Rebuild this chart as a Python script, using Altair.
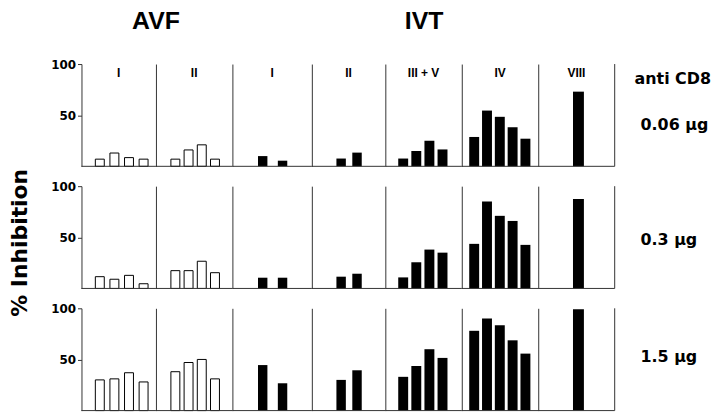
import altair as alt
import pandas as pd

# ---------------- data ----------------
doses = ["0.06 µg", "0.3 µg", "1.5 µg"]
group_names = ["I", "II", "I", "II", "III + V", "IV", "VIII"]
cohorts = ["AVF", "AVF", "IVT", "IVT", "IVT", "IVT", "IVT"]

# % inhibition, one list per dose row (0.06, 0.3, 1.5 µg)
avf_i = [[7, 13, 8.5, 7], [11.5, 9, 12.8, 4.6], [30, 31, 37, 28]]
avf_ii = [[7, 16, 21, 7], [17.4, 17.4, 26.6, 15.4], [38, 47, 50, 31]]
ivt_i = [[10, 5.5], [10.5, 10.5], [44.5, 26.7]]
ivt_ii = [[7.6, 13.4], [11.5, 14.4], [30, 39.4]]
ivt_iii_v = [[7.6, 15, 25, 16.5], [10.8, 25.6, 38, 35], [33, 43.6, 60, 51.5]]
ivt_iv = [[28.7, 54.5, 48.4, 38.2, 27], [43.6, 85, 71, 66, 42.6], [78, 90, 83.4, 68.7, 55.7]]
ivt_viii = [[73], [87.5], [99]]
series = [avf_i, avf_ii, ivt_i, ivt_ii, ivt_iii_v, ivt_iv, ivt_viii]

y_ticks = [50, 100]
side_note = "anti CD8"
y_title = "% Inhibition"

# ---------------- layout / style ----------------
FONT = "DejaVu Sans"
HEAD_FONT = "Liberation Sans, Arial, DejaVu Sans"
LINE = "#333333"
widths = [75, 77, 80, 74, 77, 77, 77]
# (bar step, bar width, centre of the bar group inside the panel)
bar_geom = [(14.7, 9, 40.5), (13.3, 9, 39.5), (20, 9.5, 40.5), (16, 9.5, 37.5),
            (13.2, 10, 37.8), (12.9, 10, 38.3), (16, 11, 40.5)]
H = 103
ROW_GAP = 13
dose_label_y = [61, 54, 49]


def text_layer(label, x, y, size, angle=0, align="center", font=FONT, baseline="middle"):
    return alt.Chart(pd.DataFrame({"t": [label]})).mark_text(
        font=font, fontSize=size, fontWeight="bold", color="black",
        align=align, baseline=baseline, angle=angle
    ).encode(text="t:N", x=alt.value(x), y=alt.value(y))


def panel(r, g):
    vals = series[g][r]
    n = len(vals)
    df = pd.DataFrame({"sample": [str(i + 1) for i in range(n)], "value": vals})
    W = widths[g]
    step, bw, centre = bar_geom[g]
    p_in = 1 - bw / step
    span = (n - 1) * step + bw
    rng = [centre - span / 2, centre + span / 2]
    first = g == 0
    filled = cohorts[g] == "IVT"

    yaxis = alt.Axis(values=y_ticks, title=None, grid=False, domain=True,
                     domainColor=LINE, domainWidth=1,
                     ticks=first, tickSize=4, tickColor=LINE,
                     labels=first, labelFont=FONT, labelFontSize=12,
                     labelFontWeight="bold", labelColor="black", labelPadding=2)
    xaxis = alt.Axis(title=None, grid=False, labels=False, ticks=False,
                     domain=False)
    mark_kw = dict(fill="black") if filled else dict(fill="white", stroke="black", strokeWidth=1)
    bars = alt.Chart(df).mark_bar(**mark_kw).encode(
        x=alt.X("sample:N", sort=None, axis=xaxis,
                scale=alt.Scale(paddingInner=p_in, paddingOuter=0, range=rng)),
        y=alt.Y("value:Q", axis=yaxis, scale=alt.Scale(domain=[0, 100], nice=False)),
    )
    base_line = alt.Chart(pd.DataFrame({"v": [0]})).mark_rule(
        color=LINE, strokeWidth=1).encode(x=alt.value(0), x2=alt.value(W), y=alt.value(H))
    layers = [bars, base_line]
    if r == 0:
        layers.append(text_layer(group_names[g], W / 2, 9, 12, font=HEAD_FONT))
        if g == 0:
            layers.append(text_layer("AVF", W, -35, 25, font=HEAD_FONT, baseline="alphabetic"))
        if g == 4:
            layers.append(text_layer("IVT", 39, -35, 25, font=HEAD_FONT, baseline="alphabetic"))
    if g == 6:
        layers.append(alt.Chart(pd.DataFrame({"v": [0]})).mark_rule(
            color=LINE, strokeWidth=1).encode(x=alt.value(W), y=alt.value(0), y2=alt.value(H)))
        if r == 0:
            layers.append(text_layer(side_note, W + 20, 15, 16, align="left"))
        layers.append(text_layer(doses[r], W + 26, dose_label_y[r], 16, align="left"))
    return alt.layer(*layers).properties(width=W, height=H)


rows = [alt.hconcat(*[panel(r, g) for g in range(7)], spacing=0, bounds="flush")
        for r in range(3)]
grid = alt.vconcat(*rows, spacing=ROW_GAP)

title_chart = text_layer(y_title, 10, 180, 22, angle=270).properties(width=20, height=300)

chart = alt.hconcat(title_chart, grid, spacing=19).properties(
    padding=0
).configure_view(stroke=None)

chart.save("out.html", embed_options={"renderer": "svg", "actions": False})
